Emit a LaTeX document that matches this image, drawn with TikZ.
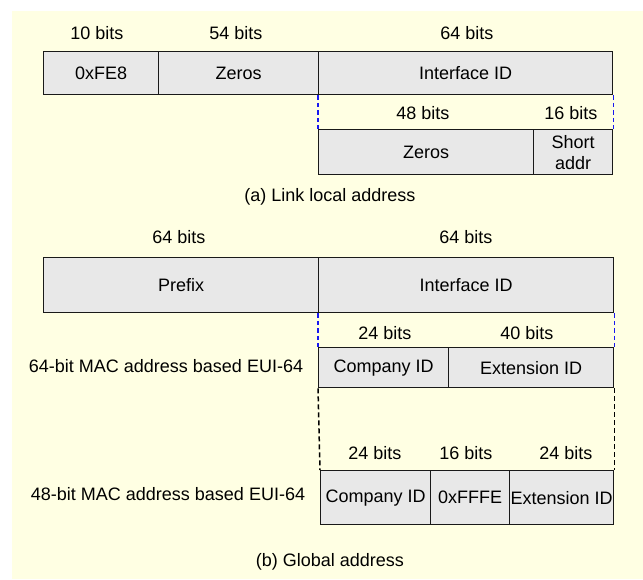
\documentclass[tikz,border=0pt]{standalone}
\usepackage{fontspec}
\setmainfont{Liberation Sans}
\definecolor{paper}{HTML}{FFFFE3}
\definecolor{cellfill}{HTML}{E8E8E8}
\definecolor{guideblue}{HTML}{1818F0}
\begin{document}
\begin{tikzpicture}[x=1pt,y=-1pt,
  every node/.style={font=\fontsize{18}{22}\selectfont, text=black},
  field/.style={draw=black!90, fill=cellfill, line width=1.4pt, inner sep=0pt,
    anchor=north west, align=center},
  bitlabel/.style={inner sep=0pt},
  blueguide/.style={draw=guideblue, line width=1.6pt, dash pattern=on 4.5pt off 3pt},
  blackguide/.style={draw=black, line width=1.5pt, dash pattern=on 5pt off 3pt}]
  \useasboundingbox (0,0) rectangle (643,579);
  \fill[paper] (12,11) rectangle (643,579);

  % (a) link local address
  \node[bitlabel] (b10) at (97,33) {10 bits};
  \node[bitlabel] (b54) at (236,33) {54 bits};
  \node[bitlabel] (b64a) at (467,33) {64 bits};
  \node[field, minimum width=115pt, minimum height=43pt] (fe8) at (43,51) {0xFE8};
  \node[field, minimum width=160pt, minimum height=43pt] (zerosA) at (158,51) {Zeros};
  \node[field, minimum width=294pt, minimum height=43pt] (iidA) at (318,51) {Interface ID};

  \node[bitlabel] (b48) at (423,113) {48 bits};
  \node[bitlabel] (b16a) at (571,113) {16 bits};
  \node[field, minimum width=215pt, minimum height=45pt] (zerosB) at (318,129) {Zeros};
  \node[field, minimum width=79pt, minimum height=45pt] (short) at (533,129) {Short\\[-1pt]addr};
  \draw[blueguide] (iidA.south west) -- (zerosB.north west);
  \draw[blueguide] (iidA.south east) -- (short.north east);

  \node[bitlabel] (capA) at (330,197) {(a) Link local address};

  % (b) global address
  \node[bitlabel] (b64b) at (179,237) {64 bits};
  \node[bitlabel] (b64c) at (466,237) {64 bits};
  \node[field, minimum width=275pt, minimum height=55pt] (prefix) at (43,257) {Prefix};
  \node[field, minimum width=295pt, minimum height=55pt] (iidB) at (318,257) {Interface ID};

  \node[bitlabel] (b24a) at (385,333) {24 bits};
  \node[bitlabel] (b40) at (527,333) {40 bits};
  \node[bitlabel] (mac64) at (166,366) {64-bit MAC address based EUI-64};
  \node[field, minimum width=130pt, minimum height=40pt] (compA) at (318,347) {Company ID};
  \node[field, minimum width=165pt, minimum height=40pt] (extA) at (448,347) {Extension ID};
  \draw[blueguide] (iidB.south west) -- (compA.north west);
  \draw[blueguide] (iidB.south east) -- (extA.north east);

  \node[bitlabel] (b24b) at (375,453) {24 bits};
  \node[bitlabel] (b16b) at (466,453) {16 bits};
  \node[bitlabel] (b24c) at (566,453) {24 bits};
  \node[bitlabel] (mac48) at (168,494) {48-bit MAC address based EUI-64};
  \node[field, minimum width=110pt, minimum height=54pt] (compB) at (320,470) {Company ID};
  \node[field, minimum width=79pt, minimum height=54pt] (fffe) at (430,470) {0xFFFE};
  \node[field, minimum width=104pt, minimum height=54pt] (extB) at (509,470) {Extension ID};
  \draw[blackguide] (compA.south west) -- (compB.north west);
  \draw[blackguide] (extA.south east) -- (extB.north east);

  \node[bitlabel] (capB) at (330,562) {(b) Global address};
\end{tikzpicture}
\end{document}
